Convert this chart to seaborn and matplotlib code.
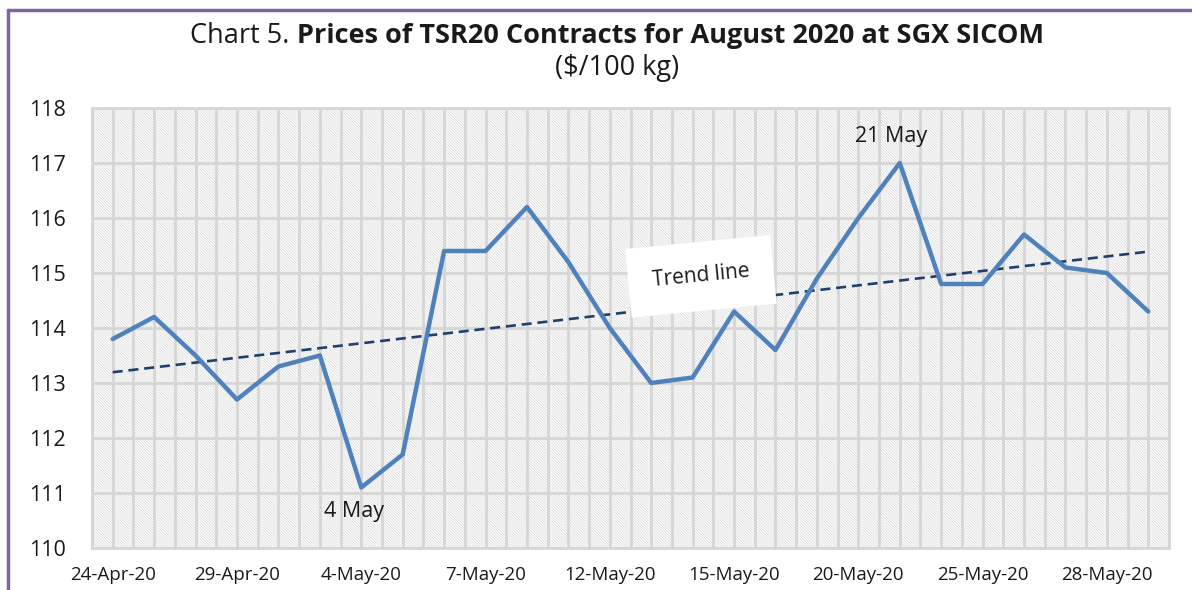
import numpy as np
import matplotlib
matplotlib.use("Agg")
import matplotlib.pyplot as plt
import seaborn as sns
from matplotlib.patches import Rectangle
from matplotlib.lines import Line2D

# ---------------- 数据 ----------------
dates = ['24-Apr-20', '27-Apr-20', '28-Apr-20', '29-Apr-20', '30-Apr-20', '1-May-20',
         '4-May-20', '5-May-20', '6-May-20', '7-May-20', '8-May-20', '11-May-20',
         '12-May-20', '13-May-20', '14-May-20', '15-May-20', '18-May-20', '19-May-20',
         '20-May-20', '21-May-20', '22-May-20', '25-May-20', '26-May-20', '27-May-20',
         '28-May-20', '29-May-20']
prices = [113.8, 114.2, 113.5, 112.7, 113.3, 113.5, 111.1, 111.7, 115.4, 115.4,
          116.2, 115.2, 114.0, 113.0, 113.1, 114.3, 113.6, 114.9, 116.0, 117.0,
          114.8, 114.8, 115.7, 115.1, 115.0, 114.3]
y_ticks = [110, 111, 112, 113, 114, 115, 116, 117, 118]
title_plain = "Chart 5. "
title_bold = "Prices of TSR20 Contracts for August 2020 at SGX SICOM"
subtitle = "($/100 kg)"

idx = np.arange(len(prices))

# ---------------- 样式 ----------------
sns.set_theme(style="white")
plt.rcParams['font.family'] = ['Open Sans', 'DejaVu Sans']
plt.rcParams['hatch.linewidth'] = 0.6
plt.rcParams['hatch.color'] = '#DCDCDC'

fig = plt.figure(figsize=(11.92, 5.90), dpi=100)
ax = fig.add_axes([92 / 1192, 1 - 548 / 590, (1169 - 92) / 1192, (548 - 108) / 590])

# 斜线底纹背景
ax.add_patch(Rectangle((0, 0), 1, 1, transform=ax.transAxes, facecolor='white',
                       edgecolor='#DCDCDC', hatch='\\' * 12, linewidth=0, zorder=0))

# 网格线（半个类别间距）
for xv in np.arange(-0.5, len(prices), 0.5):
    ax.axvline(xv, color='#D6D6D6', linewidth=2, zorder=1)
for yv in y_ticks:
    ax.axhline(yv, color='#D6D6D6', linewidth=2, zorder=1)

# 价格折线
sns.lineplot(x=idx, y=prices, ax=ax, color='#4F81BD', linewidth=3.2, zorder=4)

# 趋势线（线性拟合）
coef = np.polyfit(idx, prices, 1)
trend = np.polyval(coef, idx)
ax.plot(idx, trend, color='#1F3F6E', linewidth=1.9, linestyle=(0, (3.8, 2.2)), zorder=3)

ax.set_xlim(-0.5, len(prices) - 0.5)
ax.set_ylim(110, 118)
ax.set_yticks(y_ticks)
ax.set_yticklabels([str(v) for v in y_ticks], fontsize=15.5, color='#1A1A1A')
ax.set_xticks(idx[::3])
ax.set_xticklabels(dates[::3], fontsize=13.5, color='#1A1A1A')
ax.tick_params(axis='y', length=0, pad=19)
ax.tick_params(axis='x', length=0, pad=13)
for s in ax.spines.values():
    s.set_color('#D6D6D6')
    s.set_linewidth(2)
ax.set_xlabel('')
ax.set_ylabel('')

# 标注
ax.annotate('4 May', xy=(6, prices[6]), xytext=(-5, -17), textcoords='offset points',
            ha='center', va='center', fontsize=15.5, color='#1A1A1A', zorder=6)
ax.annotate('21 May', xy=(19, prices[19]), xytext=(-6, 19), textcoords='offset points',
            ha='center', va='center', fontsize=15.5, color='#1A1A1A', zorder=6)
ax.text(14.2, 114.94, 'Trend line', fontsize=15, color='#1A1A1A', ha='center', va='center',
        rotation=5.5, zorder=6,
        bbox=dict(boxstyle='square,pad=1.15', facecolor='white', edgecolor='none'))

# 标题（普通 + 加粗）
fig.canvas.draw()
renderer = fig.canvas.get_renderer()
t1 = fig.text(0, 0, title_plain, fontsize=19.5)
t2 = fig.text(0, 0, title_bold, fontsize=19.5, fontweight='bold')
w1 = t1.get_window_extent(renderer).width
w2 = t2.get_window_extent(renderer).width
cx = 617
x0 = cx - (w1 + w2) / 2
ty = 1 - 43 / 590
t1.set_position((x0 / 1192, ty))
t2.set_position(((x0 + w1) / 1192, ty))
t1.set_color('#1A1A1A')
t2.set_color('#1A1A1A')
fig.text(cx / 1192, 1 - 75 / 590, subtitle, fontsize=19.5, ha='center', va='baseline', color='#1A1A1A')

# 紫色边框（左、上）
fig.add_artist(Line2D([8 / 1192, 8 / 1192], [0, 1 - 10 / 590], transform=fig.transFigure,
                      color='#8064A2', linewidth=2.5))
fig.add_artist(Line2D([8 / 1192, 1], [1 - 10 / 590, 1 - 10 / 590], transform=fig.transFigure,
                      color='#8064A2', linewidth=2.5))

fig.savefig('out.png', dpi=100)
